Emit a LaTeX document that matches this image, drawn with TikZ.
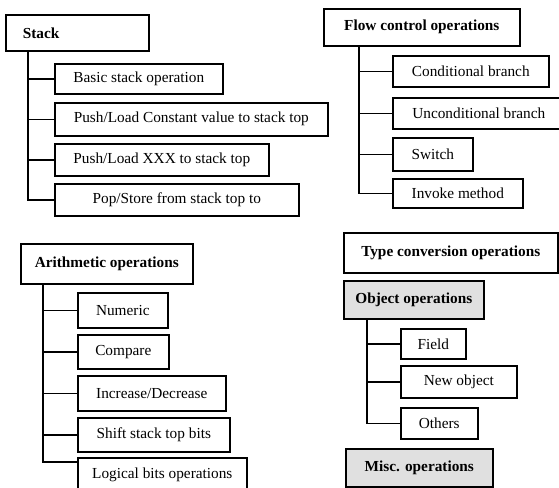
\documentclass[tikz,border=0pt]{standalone}
\usepackage{fontspec}
\setmainfont{Liberation Serif}
\begin{document}
\begin{tikzpicture}[x=1pt,y=-1pt,
  box/.style={draw=black, line width=1.6pt, fill=white, inner sep=0pt, anchor=north west,
    font=\fontsize{15.3}{18}\selectfont},
  hbox/.style={box, font=\fontsize{15.3}{18}\selectfont\bfseries},
  shade/.style={fill=black!12},
  conn/.style={draw=black, line width=1.5pt}]
\useasboundingbox (0,0) rectangle (559,487);
\fill[white] (0,0) rectangle (559,487);

% Stack group
\node[hbox, minimum width=143pt, minimum height=36pt, text width=109pt, align=left, inner xsep=17pt] (stack) at (5,14) {Stack};
\node[box, minimum width=168pt, minimum height=30pt] (basic) at (54,63) {Basic stack operation};
\node[box, minimum width=273pt, minimum height=33pt] (pushc) at (54,102) {Push/Load Constant value to stack top};
\node[box, minimum width=214pt, minimum height=32pt] (pushx) at (54,143) {Push/Load XXX to stack top};
\node[box, minimum width=244pt, minimum height=32pt] (pop) at (54,183) {Pop/Store from stack top to};
\foreach \n in {basic,pushc,pushx,pop}
  \draw[conn] ([xshift=23pt]stack.south west) |- (\n.west);

% Flow control group
\node[hbox, minimum width=196pt, minimum height=37pt] (flow) at (323,8) {Flow control operations};
\node[box, minimum width=156pt, minimum height=31pt] (cond) at (392,55) {Conditional branch};
\node[box, minimum width=172pt, minimum height=31pt] (uncond) at (392,97) {Unconditional branch};
\node[box, minimum width=80pt, minimum height=33pt] (switch) at (392,137) {Switch};
\node[box, minimum width=130pt, minimum height=29pt] (invoke) at (392,178) {Invoke method};
\foreach \n in {cond,uncond,switch,invoke}
  \draw[conn] ([xshift=36pt]flow.south west) |- (\n.west);

% Arithmetic group
\node[hbox, minimum width=172pt, minimum height=40pt] (arith) at (20,243) {Arithmetic operations};
\node[box, minimum width=90pt, minimum height=35pt] (numeric) at (77,292) {Numeric};
\node[box, minimum width=91pt, minimum height=34pt] (compare) at (77,334) {Compare};
\node[box, minimum width=148pt, minimum height=35pt] (incdec) at (77,375) {Increase/Decrease};
\node[box, minimum width=152pt, minimum height=34pt] (shift) at (77,417) {Shift stack top bits};
\node[box, minimum width=169pt, minimum height=34pt] (logical) at (77,457) {Logical bits operations};
\draw[conn] ([xshift=23pt]arith.south west) |- ([yshift=-5pt]logical.north west);
\foreach \n in {numeric,compare,incdec,shift}
  \draw[conn] ([xshift=23pt]arith.south west) |- (\n.west);

% Type conversion / object / misc
\node[hbox, minimum width=214pt, minimum height=40pt] (typeconv) at (343,232) {Type conversion operations};
\node[hbox, shade, minimum width=140pt, minimum height=38pt] (object) at (343,280) {Object operations};
\node[box, minimum width=65pt, minimum height=30pt] (field) at (400,328) {Field};
\node[box, minimum width=116pt, minimum height=32pt] (newobj) at (400,365) {New object};
\node[box, minimum width=77pt, minimum height=31pt] (others) at (400,407) {Others};
\foreach \n in {field,newobj,others}
  \draw[conn] ([xshift=24pt]object.south west) |- (\n.west);
\node[hbox, shade, minimum width=147pt, minimum height=38pt] (misc) at (345,448) {Misc. operations};
\end{tikzpicture}
\end{document}
